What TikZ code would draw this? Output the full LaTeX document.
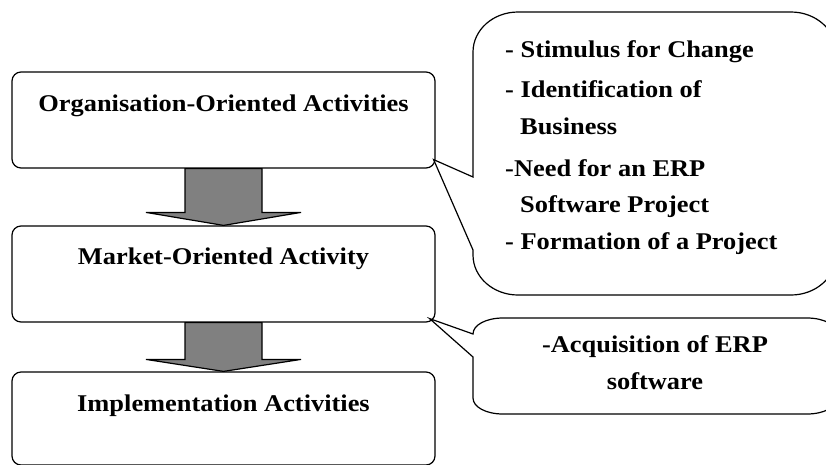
\documentclass[tikz,border=0pt]{standalone}
\usepackage{fontspec}
\setmainfont{Liberation Serif}[FakeStretch=1.1]
\usetikzlibrary{calc}
\definecolor{arrowgray}{HTML}{808080}
\begin{document}
\begin{tikzpicture}[x=1pt,y=-1pt,
  box/.style={draw, line width=1.2pt, rounded corners=9pt, minimum width=423pt, minimum height=96pt, inner sep=0pt},
  lbl/.style={font=\fontsize{24}{29}\selectfont\bfseries, inner sep=0pt},
  blockarrow/.style={draw, line width=1.2pt, fill=arrowgray, line join=miter},
  callout/.style={draw, line width=1.2pt, line join=miter}]
\useasboundingbox (0,0) rectangle (826,464);
\clip (0,0) rectangle (826,464);

% boxes
\node[box] (org) at (223.5,120) {};
\node[box] (mkt) at (223.5,274) {};
\node[box, minimum height=93pt] (imp) at (223.5,418.5) {};

\node[lbl, anchor=base] (orgtxt) at (223.5,111) {Organisation-Oriented Activities};
\node[lbl, anchor=base] (mkttxt) at (223.5,264) {Market-Oriented Activity};
\node[lbl, anchor=base] (imptxt) at (223.5,411) {Implementation Activities};

% block arrows
\draw[blockarrow] ($(org.south)+(-38.5,0)$) -- ($(mkt.north)+(-38.5,-13)$)
  -- ($(mkt.north)+(-77.5,-13)$) -- (mkt.north) -- ($(mkt.north)+(77.5,-13)$)
  -- ($(mkt.north)+(38.5,-13)$) -- ($(org.south)+(38.5,0)$) -- cycle;
\draw[blockarrow] ($(mkt.south)+(-38.5,0)$) -- ($(imp.north)+(-38.5,-12)$)
  -- ($(imp.north)+(-77.5,-12)$) -- (imp.north) -- ($(imp.north)+(77.5,-12)$)
  -- ($(imp.north)+(38.5,-12)$) -- ($(mkt.south)+(38.5,0)$) -- cycle;

% callout pointer tips
\coordinate (tip1) at ($(org.south east)+(-2,-9)$);
\coordinate (tip2) at ($(mkt.south east)+(-6,-4)$);

% callout 1
\draw[callout] (473,177) -- (473,52) .. controls (473,30) and (493,12) .. (518,12)
  -- (791,12) .. controls (816,12) and (836,30) .. (836,52)
  -- (836,255) .. controls (836,277) and (816,295) .. (791,295)
  -- (518,295) .. controls (493,295) and (473,277) .. (473,255)
  -- (473,250) -- (tip1) -- cycle;

% callout 2
\draw[callout] (473,357) -- (473,398) .. controls (473,407) and (486,414) .. (503,414)
  -- (807,414) .. controls (824,414) and (837,407) .. (837,398)
  -- (837,334) .. controls (837,325) and (824,318) .. (807,318)
  -- (503,318) .. controls (486,318) and (473,325) .. (473,334)
  -- (tip2) -- cycle;

% callout 1 text
\node[lbl, anchor=base west] (c1a) at (505,57) {- Stimulus for Change};
\node[lbl, anchor=base west] (c1b) at (505,97) {- Identification of};
\node[lbl, anchor=base west] (c1c) at (520,134) {Business};
\node[lbl, anchor=base west] (c1d) at (505,176) {-Need for an ERP};
\node[lbl, anchor=base west] (c1e) at (520,212) {Software Project};
\node[lbl, anchor=base west] (c1f) at (505,249) {- Formation of a Project};

% callout 2 text
\node[lbl, anchor=base] (c2a) at (655,352) {-Acquisition of ERP};
\node[lbl, anchor=base] (c2b) at (655,389) {software};
\end{tikzpicture}
\end{document}
